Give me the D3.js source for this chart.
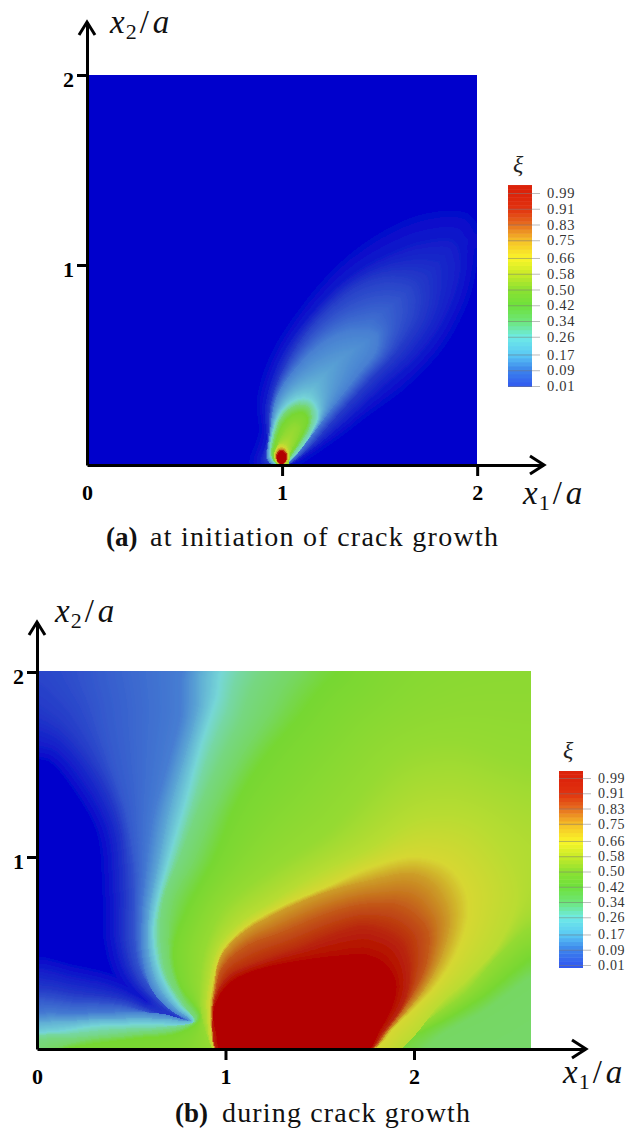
<!DOCTYPE html>
<html>
<head>
<meta charset="utf-8">
<script src="https://cdn.jsdelivr.net/npm/d3@7"></script>
<style>
  html, body { margin: 0; padding: 0; background: #fff; }
  text { font-family: "Liberation Serif", serif; }
</style>
</head>
<body>
<svg id="chart" width="630" height="1128"></svg>
<script>
// colour bar
const barTicks = [0.99, 0.91, 0.83, 0.75, 0.66, 0.58, 0.50, 0.42, 0.34, 0.26, 0.17, 0.09, 0.01];
const barStops = [0.01, 0.09, 0.17, 0.26, 0.34, 0.42, 0.50, 0.58, 0.66, 0.75, 0.83, 0.91, 0.99];
const barColors = ["#325af0", "#3c82eb", "#5ac8f5", "#6eebe6", "#6ee678", "#6ee13c", "#8ce132", "#c8eb28", "#faf528", "#f5be28", "#e66e1e", "#e1320f", "#dc230a"];

// colours of the plotted field
const fieldStops = [0.01, 0.08, 0.17, 0.25, 0.34, 0.42, 0.50, 0.58, 0.66, 0.75, 0.83, 0.91, 0.99];
const fieldColors = ["#0000cc", "#2338c8", "#467dd2", "#76d7d7", "#76d782", "#76d732", "#96da32", "#b9dc32", "#d7d732", "#cda028", "#c35a19", "#b9280a", "#b20000"];

const tickValues = [0, 1, 2];

// panel a, contours of xi, as [x1/a, x2/a]
const levelsA = [0.02, 0.045, 0.085, 0.17, 0.25, 0.34, 0.42, 0.47, 0.58, 0.66, 0.83, 0.97];
const contoursA = [
  [[.853,0],[.896,.163],[.887,.334],[.955,.556],[1.092,.778],[1.297,1.017],[1.502,1.171],[1.742,1.274],[1.947,1.274],[2.0,1.188],[1.981,1.017],[1.947,.863],[1.827,.624],[1.639,.419],[1.434,.265],[1.229,.111],[1.041,0]],
  [[.896,.009],[.921,.129],[.913,.299],[.99,.539],[1.126,.744],[1.331,.949],[1.537,1.068],[1.742,1.137],[1.878,1.137],[1.912,1.017],[1.844,.778],[1.707,.573],[1.519,.402],[1.297,.197],[1.126,.06],[1.024,0]],
  [[.925,.02],[.93,.146],[.947,.334],[1.041,.556],[1.195,.761],[1.383,.915],[1.554,.966],[1.69,.932],[1.707,.795],[1.605,.607],[1.451,.436],[1.263,.231],[1.109,.06],[1.007,-.005]],
  [[.93,.02],[.938,.163],[.973,.351],[1.092,.522],[1.229,.641],[1.366,.692],[1.485,.675],[1.485,.59],[1.383,.453],[1.263,.299],[1.16,.163],[1.041,.017],[.99,-.01]],
  [[.94,.043],[.947,.146],[.99,.265],[1.075,.334],[1.143,.334],[1.186,.265],[1.16,.18],[1.1,.086],[1.032,.017],[.99,-.01]],
  [[.947,.043],[.955,.129],[.998,.248],[1.075,.308],[1.135,.299],[1.152,.248],[1.135,.18],[1.075,.086],[1.024,.017],[.99,-.01]],
  [[.953,.043],[.964,.111],[1.007,.214],[1.067,.265],[1.118,.265],[1.135,.231],[1.109,.163],[1.067,.086],[1.015,.017],[.99,-.01]],
  [[.957,.043],[.975,.1],[1.007,.163],[1.058,.214],[1.092,.197],[1.075,.129],[1.045,.07],[1.03,0],[.99,-.01]],
  [[.96,.04],[.967,.08],[.997,.11],[1.028,.09],[1.037,.045],[1.02,.01],[.997,-.005],[.975,.01]],
  [[.965,.04],[.97,.07],[.997,.093],[1.025,.07],[1.033,.04],[1.018,.01],[.997,-.005],[.977,.01]],
  [[.97,.04],[.975,.065],[.997,.08],[1.02,.065],[1.027,.04],[1.015,.012],[.997,0],[.98,.012]],
  [[.975,.04],[.98,.06],[.997,.074],[1.015,.06],[1.022,.04],[1.015,.015],[.997,.005],[.98,.015]]
];

// panel b
const levelsB = [0.04, 0.08, 0.12, 0.17, 0.21, 0.25, 0.30, 0.34, 0.37, 0.42, 0.50, 0.58, 0.66, 0.75, 0.83, 0.91, 0.97];
const contoursB = [
  [[-.05,2.05],[2.75,2.05],[2.75,-.05],[-.05,-.05],[-.05,.42],[.2,.39],[.43,.33],[.6,.24],[.76,.15],[.6,.24],[.47,.38],[.41,.56],[.4,.83],[.37,1.15],[.25,1.38],[.1,1.56],[-.05,1.62]],
  [[-.05,2.05],[2.75,2.05],[2.75,-.05],[-.05,-.05],[-.05,.30],[.228,.29],[.458,.26],[.617,.2],[.768,.15],[.63,.25],[.52,.39],[.47,.565],[.47,.83],[.44,1.18],[.33,1.45],[.14,1.7],[-.05,1.85]],
  [[.3,2.05],[2.75,2.05],[2.75,-.05],[-.05,-.05],[-.05,.24],[.2,.245],[.45,.23],[.62,.185],[.78,.15],[.66,.25],[.55,.42],[.52,.6],[.52,.9],[.47,1.25],[.38,1.55],[.32,1.8]],
  [[.812,2.05],[2.75,2.05],[2.75,-.05],[-.05,-.05],[-.05,.16],[.228,.185],[.493,.194],[.67,.185],[.803,.15],[.723,.194],[.617,.3],[.56,.476],[.555,.688],[.58,.935],[.617,1.217],[.688,1.481],[.759,1.746]],
  [[.9,2.05],[2.75,2.05],[2.75,-.05],[-.05,-.05],[-.05,.115],[.2,.15],[.4,.16],[.67,.16],[.815,.15],[.73,.22],[.635,.35],[.59,.54],[.595,.72],[.645,.98],[.705,1.27],[.78,1.53],[.855,1.8]],
  [[1.02,2.05],[2.75,2.05],[2.75,-.05],[-.05,-.05],[-.05,.06],[.14,.095],[.317,.123],[.67,.13],[.812,.129],[.829,.15],[.741,.247],[.653,.406],[.617,.6],[.635,.758],[.706,1.023],[.794,1.323],[.865,1.587],[.953,1.852]],
  [[1.12,2.05],[2.75,2.05],[2.75,-.05],[-.05,-.05],[-.05,.05],[.2,.085],[.4,.105],[.7,.12],[.835,.15],[.77,.23],[.67,.4],[.635,.6],[.655,.78],[.735,1.02],[.82,1.29],[.9,1.54],[1.0,1.78]],
  [[1.25,2.05],[2.75,2.05],[2.75,-.05],[-.05,-.05],[-.05,.03],[.228,.062],[.493,.088],[.741,.115],[.838,.15],[.794,.212],[.688,.388],[.653,.6],[.67,.794],[.759,1.023],[.847,1.252],[.953,1.499],[1.059,1.711]],
  [[1.45,2.05],[2.75,2.05],[2.75,.44],[2.62,.38],[2.37,.2],[2.15,.08],[1.97,-.05],[-.05,-.05],[.228,.04],[.493,.07],[.75,.1],[.85,.16],[.776,.27],[.705,.46],[.72,.77],[.84,1.01],[.95,1.28],[1.07,1.52],[1.21,1.73]],
  [[1.7,2.05],[2.75,2.05],[2.75,.55],[2.62,.48],[2.37,.28],[2.1,.12],[1.9,.03],[1.8,-.05],[-.05,-.05],[.228,.018],[.493,.053],[.759,.088],[.865,.168],[.759,.335],[.723,.529],[.794,.741],[.935,1.005],[1.059,1.305],[1.2,1.534],[1.378,1.746],[1.554,1.958]],
  [[.97,-.05],[.93,0],[.87,.2],[.87,.4],[.9,.55],[1.0,.75],[1.25,.95],[1.55,1.15],[1.93,1.55],[2.2,1.62],[2.45,1.55],[2.75,1.4],[2.75,.68],[2.62,.65],[2.45,.5],[2.27,.3],[2.0,.1],[1.85,-.05]],
  [[.97,-.05],[.90,.2],[.91,.34],[.96,.53],[1.07,.66],[1.25,.78],[1.5,.93],[1.75,1.05],[2.05,1.22],[2.3,1.2],[2.5,1.0],[2.55,.8],[2.45,.55],[2.3,.38],[2.15,.25],[1.85,-.05]],
  [[.971,-.02],[.918,.195],[.932,.335],[.98,.512],[1.095,.635],[1.272,.741],[1.554,.864],[1.749,.952],[1.996,1.016],[2.173,.97],[2.262,.864],[2.288,.723],[2.226,.512],[2.10,.317],[1.9,.12],[1.77,-.01]],
  [[.975,-.05],[.925,.19],[.94,.33],[.97,.48],[1.07,.6],[1.25,.71],[1.5,.82],[1.75,.89],[2.0,.93],[2.12,.86],[2.19,.7],[2.15,.5],[2.05,.31],[1.87,.1],[1.765,-.01]],
  [[.98,-.05],[.93,.19],[.945,.31],[.98,.43],[1.1,.54],[1.3,.62],[1.57,.73],[1.75,.77],[1.93,.76],[2.07,.64],[2.07,.47],[2.0,.3],[1.85,.09],[1.76,-.01]],
  [[.98,-.05],[.932,.19],[.955,.3],[1.02,.39],[1.2,.47],[1.4,.54],[1.6,.62],[1.75,.65],[1.93,.57],[1.98,.42],[1.95,.25],[1.83,.08],[1.755,-.01]],
  [[.985,-.02],[.95,.08],[.935,.195],[.97,.29],[1.05,.37],[1.2,.43],[1.4,.47],[1.6,.495],[1.75,.5],[1.85,.45],[1.905,.35],[1.89,.24],[1.82,.1],[1.74,-.02]]
];

const svg = d3.select("#chart");
const defs = svg.append("defs");
const fieldColor = d3.scaleLinear().domain(fieldStops).range(fieldColors);
const barColor = d3.scaleLinear().domain(barStops).range(barColors);
const colorTable = d3.range(1001).map(i => d3.rgb(fieldColor(0.01 + 0.98 * i / 1000)));

// squared distance transform, one line at a time
function edt1d(f, n, out) {
  const v = new Int32Array(n), z = new Float64Array(n + 1);
  let k = 0;
  v[0] = 0; z[0] = -Infinity; z[1] = Infinity;
  for (let q = 1; q < n; q++) {
    let s;
    do {
      const p = v[k];
      s = (f[q] + q * q - f[p] - p * p) / (2 * q - 2 * p);
    } while (s <= z[k] && --k >= 0);
    k++;
    v[k] = q; z[k] = s; z[k + 1] = Infinity;
  }
  k = 0;
  for (let q = 0; q < n; q++) {
    while (z[k + 1] < q) k++;
    const p = v[k];
    out[q] = (q - p) * (q - p) + f[p];
  }
}

function distanceTo(mask, want, w, h) {
  const big = 1e10;
  const d = new Float64Array(w * h);
  for (let i = 0; i < w * h; i++) d[i] = mask[i] === want ? 0 : big;
  const f = new Float64Array(Math.max(w, h)), o = new Float64Array(Math.max(w, h));
  for (let x = 0; x < w; x++) {
    for (let y = 0; y < h; y++) f[y] = d[x + y * w];
    edt1d(f, h, o);
    for (let y = 0; y < h; y++) d[x + y * w] = o[y];
  }
  for (let y = 0; y < h; y++) {
    for (let x = 0; x < w; x++) f[x] = d[x + y * w];
    edt1d(f, w, o);
    for (let x = 0; x < w; x++) d[x + y * w] = o[x];
  }
  return d;
}

// value of each pixel comes from its distance to the two contours around it
function drawField(levels, contours, x, y, fade) {
  const [x0, x1] = x.range();
  const [y0, y1] = y.range();
  const w = x1 - x0, h = y0 - y1;
  const canvas = document.createElement("canvas");
  canvas.width = w; canvas.height = h;
  const ctx = canvas.getContext("2d", { willReadFrequently: true });
  const line = d3.line().x(d => x(d[0]) - x0).y(d => y(d[1]) - y1)
    .curve(d3.curveCatmullRomClosed.alpha(0.5)).context(ctx);

  const masks = [], dists = [];
  contours.forEach(c => {
    ctx.clearRect(0, 0, w, h);
    ctx.fillStyle = "#000";
    ctx.beginPath();
    line(c);
    ctx.fill();
    const px = ctx.getImageData(0, 0, w, h).data;
    const m = new Uint8Array(w * h);
    for (let i = 0; i < w * h; i++) m[i] = px[i * 4 + 3] > 127 ? 1 : 0;
    const toIn = distanceTo(m, 1, w, h), toOut = distanceTo(m, 0, w, h);
    const d = new Float32Array(w * h);
    for (let i = 0; i < w * h; i++) d[i] = Math.sqrt(m[i] ? toOut[i] : toIn[i]);
    masks.push(m); dists.push(d);
  });

  const image = ctx.createImageData(w, h);
  const n = levels.length;
  for (let p = 0; p < w * h; p++) {
    let i = n - 1;
    while (i >= 0 && !masks[i][p]) i--;
    let v;
    if (i < 0) {
      v = 0.01 + (levels[0] - 0.01) * Math.max(0, 1 - dists[0][p] / fade);
    } else if (i === n - 1) {
      v = Math.min(0.99, levels[i] + dists[i][p] * 0.01);
    } else {
      const a = dists[i][p], b = dists[i + 1][p];
      v = levels[i] + (levels[i + 1] - levels[i]) * (a / (a + b));
    }
    const c = colorTable[Math.round((v - 0.01) / 0.98 * 1000)];
    image.data[p * 4] = c.r; image.data[p * 4 + 1] = c.g; image.data[p * 4 + 2] = c.b; image.data[p * 4 + 3] = 255;
  }
  ctx.putImageData(image, 0, 0);

  svg.append("image")
    .attr("x", x0).attr("y", y1).attr("width", w).attr("height", h)
    .attr("href", canvas.toDataURL())
    .attr("filter", "url(#soft)");
}

defs.append("filter").attr("id", "soft").append("feGaussianBlur").attr("stdDeviation", 0.6);

function drawAxes(xAxisScale, yAxisScale, tipX, tipY) {
  const x0 = xAxisScale.range()[0];
  const y0 = yAxisScale(0);
  const weight = g => g.selectAll("text")
    .attr("font-family", "Liberation Serif").attr("font-weight", "bold").attr("font-size", 22).attr("fill", "#000");

  const gx = svg.append("g").attr("transform", "translate(0," + y0 + ")")
    .call(d3.axisBottom(xAxisScale).tickValues(tickValues).tickSize(11).tickSizeOuter(0).tickPadding(8).tickFormat(d3.format("d")))
    .call(weight);
  gx.selectAll(".domain").attr("stroke", "#000").attr("stroke-width", 3);
  gx.selectAll(".tick line").attr("stroke", "#000").attr("stroke-width", 3);
  gx.selectAll(".tick").filter(d => d === 0).select("line").remove();

  const gy = svg.append("g").attr("transform", "translate(" + x0 + ",0)")
    .call(d3.axisLeft(yAxisScale).tickValues(tickValues.slice(1)).tickSize(10).tickSizeOuter(0).tickPadding(3).tickFormat(d3.format("d")))
    .call(weight);
  gy.selectAll(".domain").attr("stroke", "#000").attr("stroke-width", 3);
  gy.selectAll(".tick line").attr("stroke", "#000").attr("stroke-width", 3);
  gy.selectAll(".tick text").attr("transform", "translate(0,4)");

  // arrow heads
  svg.append("path")
    .attr("d", `M${x0 - 8},${tipY + 13}L${x0},${tipY}L${x0 + 8},${tipY + 13}`)
    .attr("fill", "none").attr("stroke", "#000").attr("stroke-width", 3);
  svg.append("path")
    .attr("d", `M${tipX - 14},${y0 - 9}L${tipX},${y0}L${tipX - 14},${y0 + 9}`)
    .attr("fill", "none").attr("stroke", "#000").attr("stroke-width", 3);
}

function drawBar(left, top, bottom, yFor99, yFor01, labelSize) {
  const barY = d3.scaleLinear().domain([0.01, 0.99]).range([yFor01, yFor99]);
  const width = 24;
  const step = 0.0204;
  const bands = d3.range(0.01, barY.invert(top), step);
  const g = svg.append("g");
  g.selectAll("rect").data(bands).enter().append("rect")
    .attr("x", left)
    .attr("y", d => Math.max(top, barY(d + step)))
    .attr("width", width)
    .attr("height", d => barY(d) - Math.max(top, barY(d + step)) + 0.5)
    .attr("fill", d => barColor(Math.min(0.99, d + step / 2)));
  g.append("rect").attr("x", left).attr("y", yFor01).attr("width", width).attr("height", bottom - yFor01)
    .attr("fill", barColor(0.01));

  const ax = svg.append("g").attr("transform", "translate(" + (left + width) + ",0)")
    .call(d3.axisRight(barY).tickValues(barTicks).tickSize(8).tickPadding(7).tickFormat(d3.format(".2f")));
  ax.select(".domain").remove();
  ax.selectAll(".tick line").attr("stroke", "#777").attr("stroke-width", 1)
    .attr("x1", -width).attr("stroke-opacity", 0.5);
  ax.selectAll("text").attr("font-family", "Liberation Serif").attr("font-size", labelSize)
    .attr("letter-spacing", 0.7).attr("fill", "#333");
}

function mathLabel(x, y, sub) {
  const t = svg.append("text").attr("x", x).attr("y", y).attr("font-size", 33).attr("fill", "#111");
  t.append("tspan").attr("font-style", "italic").text("x");
  t.append("tspan").attr("font-size", 22).attr("dy", 6).attr("dx", 1).text(sub);
  t.append("tspan").attr("dy", -6).attr("dx", 3).text("/");
  t.append("tspan").attr("font-style", "italic").attr("dx", 4).text("a");
}

function caption(xBold, xText, y, bold, rest, length) {
  svg.append("text").attr("x", xBold).attr("y", y).attr("font-size", 27).attr("font-weight", "bold").attr("fill", "#111").text(bold);
  svg.append("text").attr("x", xText).attr("y", y).attr("font-size", 28).attr("fill", "#111")
    .attr("textLength", length).attr("lengthAdjust", "spacing").text(rest);
}

// panel a
const xA = d3.scaleLinear().domain([0, 2]).range([87, 477]);
const yA = d3.scaleLinear().domain([0, 2]).range([465, 75]);
drawField(levelsA, contoursA, xA, yA, 20);
drawAxes(d3.scaleLinear().domain([0, 2.34]).range([87, 543.5]),
  d3.scaleLinear().domain([0, 1, 2, 2.23]).range([465, 265, 75, 22]), 544, 22);
svg.append("text").attr("x", 513).attr("y", 172).attr("font-size", 24).attr("font-style", "italic").attr("fill", "#222").text("ξ");
drawBar(508, 185, 387, 193, 386, 14.5);
mathLabel(110, 33, "2");
mathLabel(523, 504, "1");
caption(106, 150, 546, "(a)", "at initiation of crack growth", 348);

// panel b
const xB = d3.scaleLinear().domain([0, 2.62]).range([37, 531]);
const yB = d3.scaleLinear().domain([0, 2]).range([1049, 671]);
drawField(levelsB, contoursB, xB, yB, 14);
drawAxes(d3.scaleLinear().domain([0, 2.91]).range([37, 585.5]),
  d3.scaleLinear().domain([0, 1, 2, 2.27]).range([1049, 857, 672, 622]), 586, 622);
svg.append("text").attr("x", 563).attr("y", 758).attr("font-size", 24).attr("font-style", "italic").attr("fill", "#222").text("ξ");
drawBar(559, 771, 968, 778, 965, 14);
mathLabel(55, 622, "2");
mathLabel(563, 1083, "1");
caption(175, 222, 1122, "(b)", "during crack growth", 248);
</script>
</body>
</html>
